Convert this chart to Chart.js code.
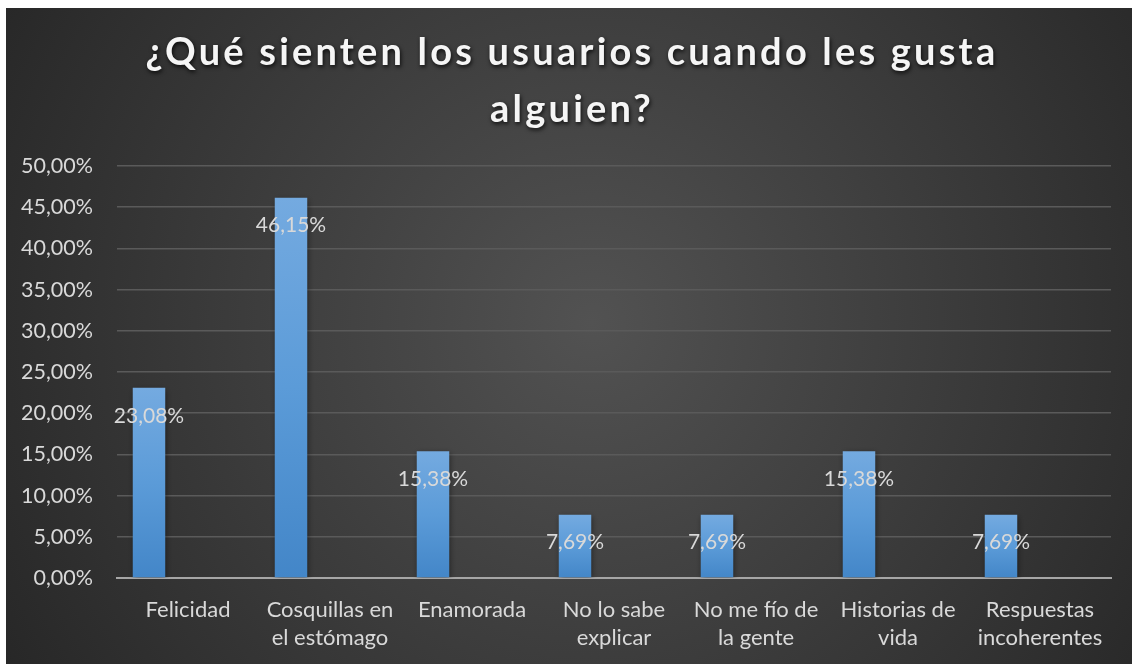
<!DOCTYPE html>
<html>
<head>
<meta charset="utf-8">
<script src="https://cdn.jsdelivr.net/npm/chart.js@4.4.1/dist/chart.umd.min.js"></script>
<style>
  html, body { margin: 0; padding: 0; background: #ffffff; }
  #wrap { position: absolute; left: 6px; top: 8px; width: 1126px; height: 656px; }
</style>
</head>
<body>
<div id="wrap"><canvas id="c"></canvas></div>
<script>
const TITLE_LINES = ['¿Qué sienten los usuarios cuando les gusta', 'alguien?'];
const CATEGORIES = [
  'Felicidad',
  ['Cosquillas en', 'el estómago'],
  'Enamorada',
  ['No lo sabe', 'explicar'],
  ['No me fío de', 'la gente'],
  ['Historias de', 'vida'],
  ['Respuestas', 'incoherentes']
];
const VALUES = [23.08, 46.15, 15.38, 7.69, 7.69, 15.38, 7.69];
const Y_MIN = 0, Y_MAX = 50, Y_STEP = 5;

const FONT = 'Lato, "Open Sans", sans-serif';
const TEXT_COLOR = '#d9d9d9';

function fmt(v, d) { return v.toFixed(d).replace('.', ',') + '%'; }

const bgPlugin = {
  id: 'bg',
  beforeDraw(chart) {
    const { ctx, width, height } = chart;
    const g = ctx.createRadialGradient(width * 0.52, height * 0.48, 0, width * 0.52, height * 0.48, width * 0.62);
    g.addColorStop(0, '#525252');
    g.addColorStop(1, '#262626');
    ctx.save();
    ctx.fillStyle = g;
    ctx.fillRect(0, 0, width, height);
    ctx.restore();
  }
};

const shadowPlugin = {
  id: 'barShadow',
  beforeDatasetsDraw(chart) {
    const ctx = chart.ctx;
    ctx.save();
    ctx.shadowColor = 'rgba(0,0,0,0.45)';
    ctx.shadowBlur = 6;
    ctx.shadowOffsetX = 1;
    ctx.shadowOffsetY = 2;
  },
  afterDatasetsDraw(chart) {
    chart.ctx.restore();
  }
};

const labelPlugin = {
  id: 'valueLabels',
  afterDatasetsDraw(chart) {
    const ctx = chart.ctx;
    const meta = chart.getDatasetMeta(0);
    ctx.save();
    ctx.font = '21px ' + FONT;
    ctx.fillStyle = TEXT_COLOR;
    ctx.textAlign = 'center';
    ctx.textBaseline = 'middle';
    meta.data.forEach((bar, i) => {
      ctx.fillText(fmt(VALUES[i], 2), bar.x, bar.y + 28);
    });
    ctx.restore();
  }
};

const titlePlugin = {
  id: 'customTitle',
  afterDraw(chart) {
    const ctx = chart.ctx;
    ctx.save();
    ctx.font = 'bold 38px ' + FONT;
    ctx.letterSpacing = '3.2px';
    ctx.fillStyle = '#f5f5f5';
    ctx.textAlign = 'center';
    ctx.textBaseline = 'alphabetic';
    ctx.shadowColor = 'rgba(0,0,0,0.8)';
    ctx.shadowBlur = 4;
    ctx.shadowOffsetX = 1;
    ctx.shadowOffsetY = 2;
    const cx = chart.width / 2 + 3;
    ctx.fillText(TITLE_LINES[0], cx, 57);
    ctx.fillText(TITLE_LINES[1], cx, 114);
    ctx.restore();
  }
};

function barGradient(context) {
  const chart = context.chart;
  const area = chart.chartArea;
  if (!area || context.raw == null) return '#5b9bd5';
  const y = chart.scales.y;
  const top = y.getPixelForValue(context.raw);
  const base = y.getPixelForValue(0);
  const g = chart.ctx.createLinearGradient(0, top, 0, base);
  g.addColorStop(0, '#74aae0');
  g.addColorStop(0.5, '#5b9bd8');
  g.addColorStop(1, '#4386c8');
  return g;
}

new Chart(document.getElementById('c'), {
  type: 'bar',
  data: {
    labels: CATEGORIES,
    datasets: [
      { data: VALUES, backgroundColor: barGradient, borderWidth: 0 },
      { data: VALUES.map(() => null) },
      { data: VALUES.map(() => null) }
    ]
  },
  options: {
    responsive: true,
    maintainAspectRatio: false,
    animation: false,
    events: [],
    datasets: { bar: { categoryPercentage: 0.824, barPercentage: 0.833 } },
    layout: { padding: { left: 0, right: 21, top: 158, bottom: 0 } },
    plugins: { legend: { display: false }, title: { display: false }, tooltip: { enabled: false } },
    scales: {
      x: {
        grid: { display: false, drawTicks: false },
        border: { display: true, color: '#a6a6a6', width: 2 },
        ticks: { color: TEXT_COLOR, font: { family: FONT, size: 22, lineHeight: 1.28 }, padding: 18, maxRotation: 0, autoSkip: false },
        afterFit(s) { s.height = 86; }
      },
      y: {
        min: Y_MIN, max: Y_MAX,
        grid: { color: '#5a5a5a', lineWidth: 1.5, drawTicks: false },
        border: { display: false },
        ticks: { stepSize: Y_STEP, color: TEXT_COLOR, font: { family: FONT, size: 21.5 }, padding: 24, callback: v => fmt(v, 2) },
        afterFit(s) { s.width = 111; }
      }
    }
  },
  plugins: [bgPlugin, shadowPlugin, labelPlugin, titlePlugin]
});
</script>
</body>
</html>
